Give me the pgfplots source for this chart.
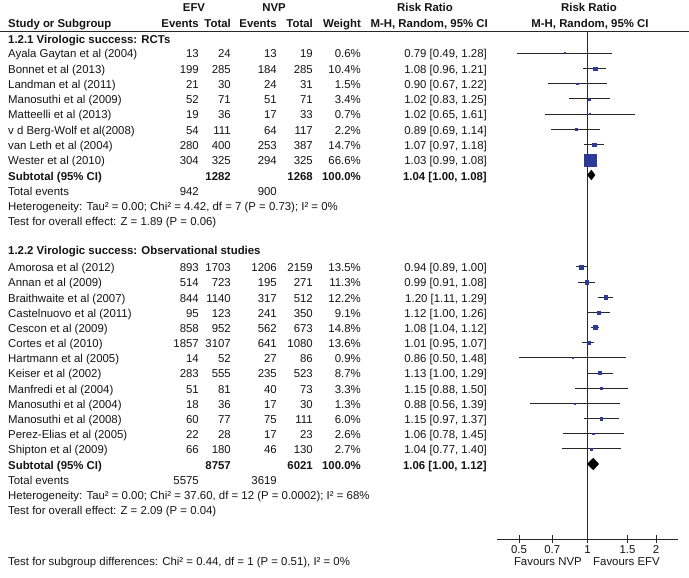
\documentclass[border=0pt]{standalone}
\usepackage{pgfplots}
\pgfplotsset{compat=1.18}
\usepackage{fontspec}
\setmainfont{Liberation Sans}
\definecolor{sqblue}{RGB}{46,58,152}
\definecolor{txt}{RGB}{20,20,20}
\definecolor{lin}{RGB}{40,40,40}
\newcommand\fs{\fontsize{11.4pt}{13pt}\selectfont}
% y name e1 n1 e2 n2 w rr
\newcommand\study[8]{%
  \node[anchor=base west] at (8,{#1+5}) {#2};
  \node[anchor=base east] at (199,{#1+5}) {#3};
  \node[anchor=base east] at (231,{#1+5}) {#4};
  \node[anchor=base east] at (277,{#1+5}) {#5};
  \node[anchor=base east] at (313,{#1+5}) {#6};
  \node[anchor=base east] at (361,{#1+5}) {#7};
  \node[anchor=base east] at (487,{#1+5}) {#8};
}
\begin{document}
\begin{tikzpicture}[font=\fs]
\useasboundingbox (0,0) rectangle (689pt,-578pt);
\begin{axis}[
  at={(497pt,-539pt)}, anchor=south west,
  scale only axis, width=181pt, height=508pt,
  xmode=log, xmin=0.4, xmax=2.5, ymin=-539, ymax=-31,
  axis x line=bottom, axis y line=none,
  axis line style={-, lin, line width=0.8pt},
  xtick={0.5,0.7,1,1.5,2}, xticklabels={0.5,0.7,1,1.5,2},
  minor xtick={}, minor tick num=0,
  tick align=center, major tick length=8pt,
  tick style={lin, line width=0.8pt},
  xticklabel style={font=\fs, text=txt, yshift=-1pt, inner sep=1pt},
  clip=false,
]
\addplot[lin, line width=0.8pt] coordinates {(1,-31) (1,-539)};
% whiskers, group 1
\addplot[lin, line width=0.8pt] coordinates {(0.49,-53) (1.28,-53)};
\addplot[lin, line width=0.8pt] coordinates {(0.96,-68.25) (1.21,-68.25)};
\addplot[lin, line width=0.8pt] coordinates {(0.67,-83.5) (1.22,-83.5)};
\addplot[lin, line width=0.8pt] coordinates {(0.83,-98.75) (1.25,-98.75)};
\addplot[lin, line width=0.8pt] coordinates {(0.65,-114) (1.61,-114)};
\addplot[lin, line width=0.8pt] coordinates {(0.69,-129.25) (1.14,-129.25)};
\addplot[lin, line width=0.8pt] coordinates {(0.97,-144.5) (1.18,-144.5)};
\addplot[lin, line width=0.8pt] coordinates {(0.99,-159.75) (1.08,-159.75)};
% whiskers, group 2
\addplot[lin, line width=0.8pt] coordinates {(0.89,-266.7) (1.00,-266.7)};
\addplot[lin, line width=0.8pt] coordinates {(0.91,-281.9) (1.08,-281.9)};
\addplot[lin, line width=0.8pt] coordinates {(1.11,-297.0) (1.29,-297.0)};
\addplot[lin, line width=0.8pt] coordinates {(1.00,-312.2) (1.26,-312.2)};
\addplot[lin, line width=0.8pt] coordinates {(1.04,-327.4) (1.12,-327.4)};
\addplot[lin, line width=0.8pt] coordinates {(0.95,-342.6) (1.07,-342.6)};
\addplot[lin, line width=0.8pt] coordinates {(0.50,-357.7) (1.48,-357.7)};
\addplot[lin, line width=0.8pt] coordinates {(1.00,-372.9) (1.29,-372.9)};
\addplot[lin, line width=0.8pt] coordinates {(0.88,-388.1) (1.50,-388.1)};
\addplot[lin, line width=0.8pt] coordinates {(0.56,-403.2) (1.39,-403.2)};
\addplot[lin, line width=0.8pt] coordinates {(0.97,-418.4) (1.37,-418.4)};
\addplot[lin, line width=0.8pt] coordinates {(0.78,-433.6) (1.45,-433.6)};
\addplot[lin, line width=0.8pt] coordinates {(0.77,-448.7) (1.40,-448.7)};
% squares
\addplot[scatter, only marks, mark=square*,
  scatter/use mapped color={draw=sqblue, fill=sqblue},
  mark options={line width=0.1pt},
  visualization depends on={\thisrow{s} \as \msz},
  scatter/@pre marker code/.append style={/tikz/mark size=\msz}]
  table {
x y s
0.79 -53 0.5
1.08 -68.25 1.6
0.90 -83.5 0.7
1.02 -98.75 0.95
1.02 -114 0.5
0.89 -129.25 0.8
1.07 -144.5 1.9
1.03 -159.75 5.9
0.94 -266.7 1.9
0.99 -281.9 1.7
1.20 -297.0 1.8
1.12 -312.2 1.55
1.08 -327.4 1.95
1.01 -342.6 1.9
0.86 -357.7 0.55
1.13 -372.9 1.5
1.15 -388.1 0.95
0.88 -403.2 0.65
1.15 -418.4 1.2
1.06 -433.6 0.85
1.04 -448.7 0.85
};
% diamonds
\addplot[fill=black, draw=black, line width=0.3pt] coordinates {(1.00,-175) (1.04,-170) (1.08,-175) (1.04,-180) (1.00,-175)} -- cycle;
\addplot[fill=black, draw=black, line width=0.3pt] coordinates {(1.00,-464) (1.06,-458) (1.12,-464) (1.06,-470) (1.00,-464)} -- cycle;
\end{axis}
\begin{scope}[x=1pt, y=-1pt, every node/.style={inner sep=0pt, text=txt}]
\draw[lin, line width=0.9pt] (0,31) -- (689,31);
% header
\node[anchor=base, font=\fs\bfseries] at (194,12) {EFV};
\node[anchor=base, font=\fs\bfseries] at (274,12) {NVP};
\node[anchor=base, font=\fs\bfseries] at (425,12) {Risk Ratio};
\node[anchor=base, font=\fs\bfseries] at (589,12) {Risk Ratio};
\node[anchor=base west, font=\fs\bfseries] at (8,27.5) {Study or Subgroup};
\node[anchor=base east, font=\fs\bfseries] at (199,27.5) {Events};
\node[anchor=base east, font=\fs\bfseries] at (231,27.5) {Total};
\node[anchor=base east, font=\fs\bfseries] at (277,27.5) {Events};
\node[anchor=base east, font=\fs\bfseries] at (313,27.5) {Total};
\node[anchor=base east, font=\fs\bfseries] at (361,27.5) {Weight};
\node[anchor=base east, font=\fs\bfseries] at (488,27.5) {M-H, Random, 95\% CI};
\node[anchor=base, font=\fs\bfseries] at (590,27.5) {M-H, Random, 95\% CI};
% group 1
\node[anchor=base west, font=\fs\bfseries] at (8,43.5) {1.2.1 Virologic success: RCTs};
\study{53}{Ayala Gaytan et al (2004)}{13}{24}{13}{19}{0.6\%}{0.79 [0.49, 1.28]}
\study{68.25}{Bonnet et al (2013)}{199}{285}{184}{285}{10.4\%}{1.08 [0.96, 1.21]}
\study{83.5}{Landman et al (2011)}{21}{30}{24}{31}{1.5\%}{0.90 [0.67, 1.22]}
\study{98.75}{Manosuthi et al (2009)}{52}{71}{51}{71}{3.4\%}{1.02 [0.83, 1.25]}
\study{114}{Matteelli et al (2013)}{19}{36}{17}{33}{0.7\%}{1.02 [0.65, 1.61]}
\study{129.25}{v d Berg-Wolf et al(2008)}{54}{111}{64}{117}{2.2\%}{0.89 [0.69, 1.14]}
\study{144.5}{van Leth et al (2004)}{280}{400}{253}{387}{14.7\%}{1.07 [0.97, 1.18]}
\study{159.75}{Wester et al (2010)}{304}{325}{294}{325}{66.6\%}{1.03 [0.99, 1.08]}
\study{175}{\bfseries Subtotal (95\% CI)}{}{\bfseries 1282}{}{\bfseries 1268}{\bfseries 100.0\%}{\bfseries 1.04 [1.00, 1.08]}
\node[anchor=base west] at (8,195) {Total events};
\node[anchor=base east] at (199,195) {942};
\node[anchor=base east] at (277,195) {900};
\node[anchor=base west] at (8,210.5) {Heterogeneity: Tau² = 0.00; Chi² = 4.42, df = 7 (P = 0.73); I² = 0\%};
\node[anchor=base west] at (8,225.5) {Test for overall effect: Z = 1.89 (P = 0.06)};
% group 2
\node[anchor=base west, font=\fs\bfseries] at (8,254.5) {1.2.2 Virologic success: Observational studies};
\study{266.7}{Amorosa et al (2012)}{893}{1703}{1206}{2159}{13.5\%}{0.94 [0.89, 1.00]}
\study{281.9}{Annan et al (2009)}{514}{723}{195}{271}{11.3\%}{0.99 [0.91, 1.08]}
\study{297.0}{Braithwaite et al (2007)}{844}{1140}{317}{512}{12.2\%}{1.20 [1.11, 1.29]}
\study{312.2}{Castelnuovo et al (2011)}{95}{123}{241}{350}{9.1\%}{1.12 [1.00, 1.26]}
\study{327.4}{Cescon et al (2009)}{858}{952}{562}{673}{14.8\%}{1.08 [1.04, 1.12]}
\study{342.6}{Cortes et al (2010)}{1857}{3107}{641}{1080}{13.6\%}{1.01 [0.95, 1.07]}
\study{357.7}{Hartmann et al (2005)}{14}{52}{27}{86}{0.9\%}{0.86 [0.50, 1.48]}
\study{372.9}{Keiser et al (2002)}{283}{555}{235}{523}{8.7\%}{1.13 [1.00, 1.29]}
\study{388.1}{Manfredi et al (2004)}{51}{81}{40}{73}{3.3\%}{1.15 [0.88, 1.50]}
\study{403.2}{Manosuthi et al (2004)}{18}{36}{17}{30}{1.3\%}{0.88 [0.56, 1.39]}
\study{418.4}{Manosuthi et al (2008)}{60}{77}{75}{111}{6.0\%}{1.15 [0.97, 1.37]}
\study{433.6}{Perez-Elias et al (2005)}{22}{28}{17}{23}{2.6\%}{1.06 [0.78, 1.45]}
\study{448.7}{Shipton et al (2009)}{66}{180}{46}{130}{2.7\%}{1.04 [0.77, 1.40]}
\study{464}{\bfseries Subtotal (95\% CI)}{}{\bfseries 8757}{}{\bfseries 6021}{\bfseries 100.0\%}{\bfseries 1.06 [1.00, 1.12]}
\node[anchor=base west] at (8,484) {Total events};
\node[anchor=base east] at (199,484) {5575};
\node[anchor=base east] at (277,484) {3619};
\node[anchor=base west] at (8,499) {Heterogeneity: Tau² = 0.00; Chi² = 37.60, df = 12 (P = 0.0002); I² = 68\%};
\node[anchor=base west] at (8,514) {Test for overall effect: Z = 2.09 (P = 0.04)};
% bottom
\node[anchor=base east] at (582,565) {Favours NVP};
\node[anchor=base west] at (593,565) {Favours EFV};
\node[anchor=base west] at (8,565) {Test for subgroup differences: Chi² = 0.44, df = 1 (P = 0.51), I² = 0\%};
\end{scope}
\end{tikzpicture}
\end{document}
